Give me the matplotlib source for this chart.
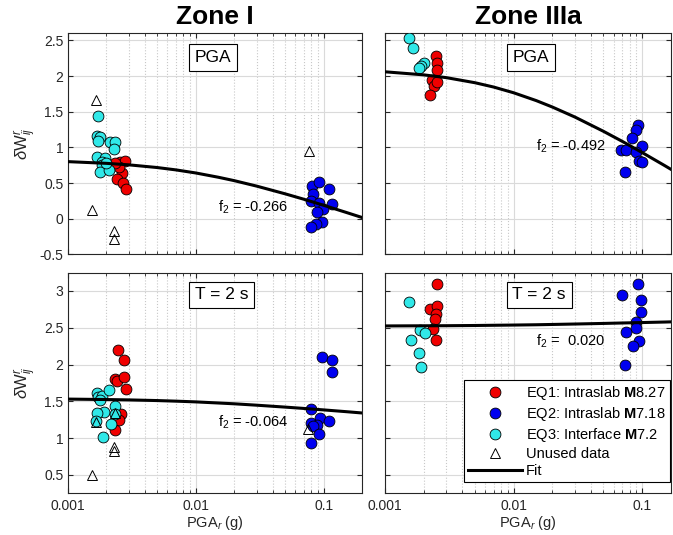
import numpy as np
import matplotlib
matplotlib.use('Agg')
import matplotlib.pyplot as plt
from matplotlib.ticker import LogLocator, NullFormatter, FormatStrFormatter

plt.rcParams['font.family'] = ['Liberation Sans', 'DejaVu Sans']
plt.rcParams['mathtext.fontset'] = 'custom'
plt.rcParams['mathtext.rm'] = 'Liberation Sans'
plt.rcParams['mathtext.it'] = 'Liberation Sans:italic'
plt.rcParams['mathtext.bf'] = 'Liberation Sans:bold'

# ---------------- data ----------------
# Zone I, PGA
tl_eq1_x = [0.00256, 0.0028, 0.00264, 0.00244, 0.00272, 0.00285, 0.00253, 0.00234]
tl_eq1_y = [0.80, 0.81, 0.64, 0.55, 0.50, 0.42, 0.72, 0.78]
tl_eq2_x = [0.0811, 0.0925, 0.1094, 0.0821, 0.0797, 0.0913, 0.1161, 0.0981, 0.0885, 0.0962, 0.0865, 0.0797]
tl_eq2_y = [0.46, 0.51, 0.42, 0.35, 0.25, 0.22, 0.21, 0.14, 0.10, -0.05, -0.08, -0.12]
tl_eq3_x = [0.00173, 0.00168, 0.00179, 0.00171, 0.00214, 0.00234, 0.00231, 0.00168, 0.00195, 0.00184,
            0.00186, 0.00178, 0.00212, 0.00200]
tl_eq3_y = [1.44, 1.16, 1.14, 1.09, 1.07, 1.08, 0.98, 0.86, 0.85, 0.80, 0.75, 0.66, 0.68, 0.78]
tl_unused_x = [0.00167, 0.0773, 0.00156, 0.00229, 0.00229]
tl_unused_y = [1.66, 0.95, 0.12, -0.17, -0.29]

# Zone IIIa, PGA
tr_eq1_x = [0.0025, 0.00256, 0.00252, 0.00233, 0.0024, 0.00223, 0.00256]
tr_eq1_y = [2.28, 2.19, 2.08, 1.94, 1.86, 1.73, 1.92]
tr_eq2_x = [0.0931, 0.0903, 0.0839, 0.069, 0.0755, 0.0989, 0.0903, 0.0948, 0.0989, 0.0737]
tr_eq2_y = [1.31, 1.25, 1.13, 0.97, 0.96, 1.02, 0.94, 0.81, 0.79, 0.65]
tr_eq3_x = [0.00153, 0.00164, 0.0020, 0.00189, 0.00183]
tr_eq3_y = [2.53, 2.39, 2.19, 2.14, 2.11]

# Zone I, T = 2 s
bl_eq1_x = [0.00245, 0.00275, 0.00234, 0.00244, 0.00277, 0.00283, 0.00261, 0.00253, 0.00234]
bl_eq1_y = [2.20, 2.06, 1.80, 1.77, 1.83, 1.67, 1.33, 1.25, 1.11]
bl_eq2_x = [0.0962, 0.1161, 0.1161, 0.0797, 0.0942, 0.1094, 0.0797, 0.0885, 0.0830, 0.0913, 0.0797]
bl_eq2_y = [2.10, 2.06, 1.90, 1.39, 1.27, 1.23, 1.21, 1.18, 1.16, 1.05, 0.93]
bl_eq3_x = [0.00168, 0.00173, 0.00184, 0.00211, 0.00179, 0.00192, 0.00168, 0.00234, 0.00236, 0.00218,
            0.00167, 0.00188]
bl_eq3_y = [1.61, 1.56, 1.57, 1.66, 1.52, 1.36, 1.34, 1.43, 1.33, 1.19, 1.23, 1.02]
bl_unused_x = [0.00156, 0.00229, 0.00229, 0.00167, 0.00236, 0.0753]
bl_unused_y = [0.50, 0.88, 0.83, 1.22, 1.34, 1.13]

# Zone IIIa, T = 2 s
br_eq1_x = [0.00252, 0.00223, 0.00256, 0.00248, 0.00245, 0.00237, 0.00250]
br_eq1_y = [3.10, 2.76, 2.79, 2.69, 2.62, 2.48, 2.33]
br_eq2_x = [0.070, 0.093, 0.0985, 0.0985, 0.0903, 0.0890, 0.0755, 0.0948, 0.0845, 0.0737]
br_eq2_y = [2.95, 3.10, 2.87, 2.72, 2.58, 2.49, 2.44, 2.32, 2.25, 2.00]
br_eq3_x = [0.00153, 0.00187, 0.00203, 0.00160, 0.00183, 0.00189]
br_eq3_y = [2.85, 2.47, 2.43, 2.33, 2.16, 1.96]

# fitted curves
fit_x = [0.001, 0.002, 0.003, 0.005, 0.007, 0.01, 0.015, 0.02, 0.03, 0.05, 0.07, 0.1, 0.15, 0.2]
tl_fit_y = [0.80, 0.776, 0.755, 0.717, 0.684, 0.641, 0.581, 0.533, 0.456, 0.348, 0.272, 0.187, 0.087, 0.015]
tr_fit_y = [2.06, 2.017, 1.978, 1.907, 1.846, 1.766, 1.656, 1.566, 1.425, 1.225, 1.084, 0.927, 0.743, 0.609]
bl_fit_y = [1.53, 1.524, 1.519, 1.510, 1.502, 1.492, 1.477, 1.466, 1.447, 1.421, 1.403, 1.383, 1.359, 1.341]
br_fit_y = [2.524, 2.526, 2.527, 2.530, 2.533, 2.536, 2.540, 2.544, 2.550, 2.558, 2.564, 2.570, 2.577, 2.583]

f2_labels = ['f$_2$ = -0.266', 'f$_2$ = -0.492', 'f$_2$ = -0.064', 'f$_2$ =  0.020']

RED = '#f00000'
BLUE = '#0000f0'
CYAN = '#30e8e8'

W, H = 673, 535
fig = plt.figure(figsize=(W / 100, H / 100), dpi=100)


def px_axes(x0, x1, y0, y1):
    return fig.add_axes([x0 / W, 1 - y1 / H, (x1 - x0) / W, (y1 - y0) / H])


ax_tl = px_axes(67.7, 362.3, 33.3, 254.3)
ax_tr = px_axes(385, 671, 33.3, 254.3)
ax_bl = px_axes(67.7, 362.3, 272.5, 493.3)
ax_br = px_axes(385, 671, 272.5, 493.3)


def setup(ax, xmax, ylim, yticks, show_x, show_y):
    ax.set_xscale('log')
    ax.set_xlim(0.001, xmax)
    ax.set_ylim(ylim)
    ax.set_yticks(yticks)
    ax.set_xticks([0.001, 0.01, 0.1])
    ax.xaxis.set_minor_locator(LogLocator(base=10, subs=np.arange(2, 10)))
    ax.xaxis.set_minor_formatter(NullFormatter())
    ax.yaxis.set_major_formatter(FormatStrFormatter('%g'))
    if show_x:
        ax.set_xticklabels(['0.001', '0.01', '0.1'])
    else:
        ax.set_xticklabels([])
    if not show_y:
        ax.set_yticklabels([])
    ax.grid(True, which='major', color='#dadada', linewidth=0.8)
    ax.grid(True, which='minor', axis='x', color='#c8c8c8', linestyle=':', linewidth=0.8)
    ax.set_axisbelow(True)
    ax.tick_params(which='both', direction='in', top=True, right=True,
                   labelsize=10, colors='#262626', labelcolor='#262626')
    ax.tick_params(which='major', length=3.5, pad=4)
    ax.tick_params(which='minor', length=2)
    ax.tick_params(axis='y', pad=3)
    for s in ax.spines.values():
        s.set_color('#262626')
        s.set_linewidth(0.8)


setup(ax_tl, 0.2, (-0.5, 2.6), [-0.5, 0, 0.5, 1, 1.5, 2, 2.5], False, True)
setup(ax_tr, 0.1675, (-0.5, 2.6), [-0.5, 0, 0.5, 1, 1.5, 2, 2.5], False, False)
setup(ax_bl, 0.2, (0.25, 3.25), [0.5, 1, 1.5, 2, 2.5, 3], True, True)
setup(ax_br, 0.1675, (0.25, 3.25), [0.5, 1, 1.5, 2, 2.5, 3], True, False)

circ = dict(linestyle='none', marker='o', markersize=7.8, markeredgecolor='black', markeredgewidth=0.6)
tri = dict(linestyle='none', marker='^', markersize=6.5, markerfacecolor='none',
           markeredgecolor='black', markeredgewidth=0.7)

panels = [
    (ax_tl, tl_eq1_x, tl_eq1_y, tl_eq2_x, tl_eq2_y, tl_eq3_x, tl_eq3_y, tl_unused_x, tl_unused_y, tl_fit_y),
    (ax_tr, tr_eq1_x, tr_eq1_y, tr_eq2_x, tr_eq2_y, tr_eq3_x, tr_eq3_y, [], [], tr_fit_y),
    (ax_bl, bl_eq1_x, bl_eq1_y, bl_eq2_x, bl_eq2_y, bl_eq3_x, bl_eq3_y, bl_unused_x, bl_unused_y, bl_fit_y),
    (ax_br, br_eq1_x, br_eq1_y, br_eq2_x, br_eq2_y, br_eq3_x, br_eq3_y, [], [], br_fit_y),
]

handles = []
for ax, x1, y1, x2, y2, x3, y3, xu, yu, yf in panels:
    h1, = ax.plot(x1, y1, markerfacecolor=RED, zorder=3, **circ)
    h2, = ax.plot(x2, y2, markerfacecolor=BLUE, zorder=3, **circ)
    h3, = ax.plot(x3, y3, markerfacecolor=CYAN, zorder=3, **circ)
    h4, = ax.plot(xu, yu, zorder=4, **tri)
    h5, = ax.plot(fit_x, yf, color='black', linewidth=2.2, zorder=5)
    handles = [h1, h2, h3, h4, h5]

# panel boxes ("PGA", "T = 2 s")
box = dict(boxstyle='square,pad=0.32', facecolor='white', edgecolor='black', linewidth=0.8)
ax_tl.text(0.0098, 2.26, 'PGA', fontsize=12.5, ha='left', va='center', bbox=box, zorder=6)
ax_tr.text(0.0098, 2.26, 'PGA', fontsize=12.5, ha='left', va='center', bbox=box, zorder=6)
ax_bl.text(0.0098, 2.945, 'T = 2 s', fontsize=12.5, ha='left', va='center', bbox=box, zorder=6)
ax_br.text(0.0098, 2.945, 'T = 2 s', fontsize=12.5, ha='left', va='center', bbox=box, zorder=6)

# f2 annotations
ax_tl.text(0.0149, 0.10, f2_labels[0], fontsize=10.5, ha='left', va='baseline', zorder=6)
ax_tr.text(0.0149, 0.953, f2_labels[1], fontsize=10.5, ha='left', va='baseline', zorder=6)
ax_bl.text(0.0149, 1.163, f2_labels[2], fontsize=10.5, ha='left', va='baseline', zorder=6)
ax_br.text(0.0149, 2.262, f2_labels[3], fontsize=10.5, ha='left', va='baseline', zorder=6)

leg = ax_br.legend(handles,
                   [r'EQ1: Intraslab $\mathbf{M}$8.27', r'EQ2: Intraslab $\mathbf{M}$7.18',
                    r'EQ3: Interface $\mathbf{M}$7.2', 'Unused data', 'Fit'],
                   loc='lower right', bbox_to_anchor=((670 - 385) / 286, 11 / 220.8),
                   borderaxespad=0, fontsize=10.5, frameon=True, fancybox=False,
                   framealpha=1, edgecolor='black', handlelength=3.7, handletextpad=0.25,
                   labelspacing=0.2, borderpad=0.3)
leg.get_frame().set_linewidth(0.8)
leg.set_zorder(10)

# titles and axis labels
fig.text(215 / W, 1 - 17 / H, 'Zone I', fontsize=19, fontweight='bold', ha='center', va='center')
fig.text(528 / W, 1 - 17 / H, 'Zone IIIa', fontsize=19, fontweight='bold', ha='center', va='center')
fig.text(215 / W, 1 - 523 / H, 'PGA$_r$ (g)', fontsize=10.5, ha='center', va='center', color='#262626')
fig.text(528 / W, 1 - 523 / H, 'PGA$_r$ (g)', fontsize=10.5, ha='center', va='center', color='#262626')
fig.text(25 / W, 1 - 143.8 / H, r'$\delta$W$^{r}_{ij}$', fontsize=12, rotation=90,
         ha='center', va='center', color='#262626')
fig.text(25 / W, 1 - 383 / H, r'$\delta$W$^{r}_{ij}$', fontsize=12, rotation=90,
         ha='center', va='center', color='#262626')

fig.savefig('out.png', dpi=100)
